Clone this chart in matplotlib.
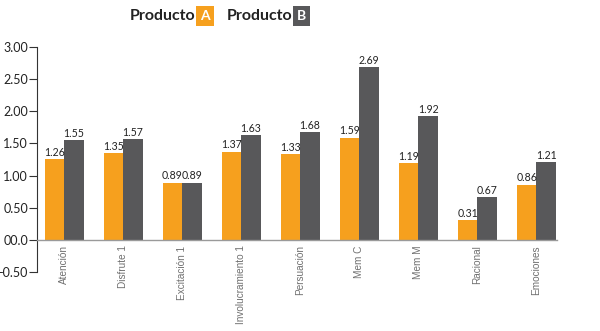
import matplotlib
matplotlib.use("Agg")
import matplotlib.pyplot as plt
import numpy as np

categories = ["Atención", "Disfrute 1", "Excitación 1", "Involucramiento 1",
              "Persuación", "Mem C", "Mem M", "Racional", "Emociones"]
producto_a = [1.26, 1.35, 0.89, 1.37, 1.33, 1.59, 1.19, 0.31, 0.86]
producto_b = [1.55, 1.57, 0.89, 1.63, 1.68, 2.69, 1.92, 0.67, 1.21]
y_ticks = [3.0, 2.5, 2.0, 1.5, 1.0, 0.5, 0.0, -0.5]
y_tick_labels = ["3.00", "2.50", "2.00", "1.50", "1.00", "0.50", "00.0", "-0.50"]

ORANGE = "#F6A01E"
GRAY = "#58585A"

plt.rcParams["font.family"] = ["Lato", "DejaVu Sans"]

fig = plt.figure(figsize=(6.0, 3.31), dpi=100)
ax = fig.add_axes([37 / 600, 59 / 331, (557 - 37) / 600, (284 - 59) / 331])

x = np.arange(len(categories))
w = 0.33
bars_a = ax.bar(x - w / 2, producto_a, width=w, color=ORANGE, zorder=2)
bars_b = ax.bar(x + w / 2, producto_b, width=w, color=GRAY, zorder=2)

for bars, vals in ((bars_a, producto_a), (bars_b, producto_b)):
    for b, v in zip(bars, vals):
        ax.text(b.get_x() + b.get_width() / 2, v + 0.02, f"{v:.2f}",
                ha="center", va="bottom", fontsize=7.6, color="#222222")

ax.set_xlim(-0.46, 8.35)
ax.set_ylim(-0.5, 3.0)
ax.set_yticks(y_ticks)
ax.set_yticklabels(y_tick_labels, fontsize=9, color="#222222")
ax.tick_params(axis="y", length=6, width=0.8, color="#333333", pad=0.5)

ax.spines["top"].set_visible(False)
ax.spines["right"].set_visible(False)
ax.spines["left"].set_color("#333333")
ax.spines["left"].set_linewidth(0.8)
ax.spines["bottom"].set_position(("data", 0))
ax.spines["bottom"].set_color("#9a9a9a")
ax.spines["bottom"].set_linewidth(1.0)
ax.spines["bottom"].set_zorder(3)

ax.set_xticks(x)
ax.set_xticklabels(categories, rotation=90, fontsize=7.2, color="#707070",
                   fontfamily=["Liberation Sans", "DejaVu Sans"])
ax.tick_params(axis="x", length=0, pad=4)

# legend header
fig.text(130 / 600, 1 - 16 / 331, "Producto", fontsize=11.5, fontweight="bold",
         color="#222222", ha="left", va="center")
fig.text(200 / 600, 1 - 16 / 331, "A", fontsize=10, fontweight="bold",
         color="white", ha="left", va="center",
         bbox=dict(boxstyle="square,pad=0.28", fc=ORANGE, ec="none"))
fig.text(227 / 600, 1 - 16 / 331, "Producto", fontsize=11.5, fontweight="bold",
         color="#222222", ha="left", va="center")
fig.text(297 / 600, 1 - 16 / 331, "B", fontsize=10, fontweight="bold",
         color="white", ha="left", va="center",
         bbox=dict(boxstyle="square,pad=0.28", fc=GRAY, ec="none"))

fig.savefig("out.png", dpi=100)
